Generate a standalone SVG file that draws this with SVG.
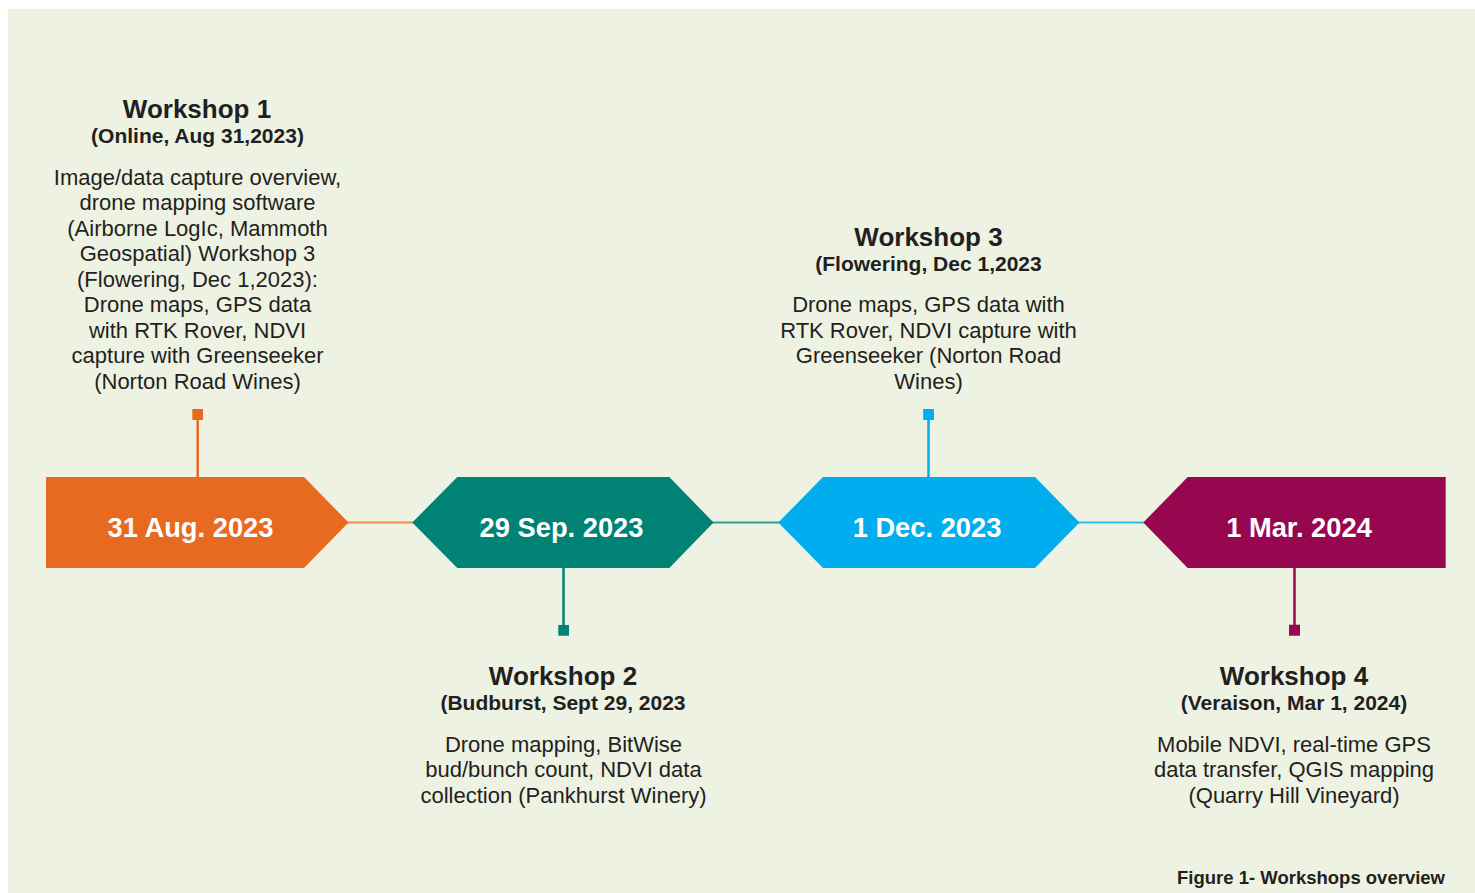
<svg xmlns="http://www.w3.org/2000/svg" width="1475" height="893" viewBox="0 0 1475 893">
  <style>
    text { font-family: "Liberation Sans", Arial, Helvetica, sans-serif; fill: #231f20; text-anchor: middle; }
    .title { font-size: 26px; font-weight: bold; }
    .sub { font-size: 21px; font-weight: bold; }
    .body { font-size: 22px; }
    .date { font-size: 27.3px; font-weight: bold; fill: #ffffff; }
    .caption { font-size: 18.5px; font-weight: bold; text-anchor: end; }
    .stem { stroke-width: 2.5; fill: none; }
    .link { stroke-width: 2; fill: none; }
  </style>

  <!-- page background -->
  <rect x="0" y="0" width="1475" height="893" fill="#ffffff"/>
  <rect x="8" y="9" width="1467" height="884" fill="#eef2e2"/>

  <!-- timeline connectors -->
  <g id="connectors">
    <line class="link" x1="346" y1="522.5" x2="414" y2="522.5" stroke="#ef8a4c"/>
    <line class="link" x1="711" y1="522.5" x2="780" y2="522.5" stroke="#3a9a8e"/>
    <line class="link" x1="1077" y1="522.5" x2="1145" y2="522.5" stroke="#2fbdf0"/>
  </g>

  <!-- Workshop 1 -->
  <g id="workshop1">
    <line class="stem" x1="197.7" y1="418" x2="197.7" y2="478" stroke="#e86a20"/>
    <rect x="192.3" y="409" width="10.7" height="11" fill="#e86a20"/>
    <polygon points="46,477 304,477 348.5,522.5 304,568 46,568" fill="#e86a20"/>
    <text class="date" x="190.5" y="536.5">31 Aug. 2023</text>
    <text class="title" x="197" y="118">Workshop 1</text>
    <text class="sub" x="197.5" y="143">(Online, Aug 31,2023)</text>
    <text class="body" x="197.5" y="184.5">Image/data capture overview,</text>
    <text class="body" x="197.5" y="210">drone mapping software</text>
    <text class="body" x="197.5" y="235.5">(Airborne LogIc, Mammoth</text>
    <text class="body" x="197.5" y="261">Geospatial) Workshop 3</text>
    <text class="body" x="197.5" y="286.5">(Flowering, Dec 1,2023):</text>
    <text class="body" x="197.5" y="312">Drone maps, GPS data</text>
    <text class="body" x="197.5" y="337.5">with RTK Rover, NDVI</text>
    <text class="body" x="197.5" y="363">capture with Greenseeker</text>
    <text class="body" x="197.5" y="388.5">(Norton Road Wines)</text>
  </g>

  <!-- Workshop 2 -->
  <g id="workshop2">
    <line class="stem" x1="563.5" y1="567" x2="563.5" y2="627" stroke="#008275"/>
    <rect x="558.3" y="625" width="10.7" height="10.7" fill="#008275"/>
    <polygon points="412.3,522.5 457.3,477 669.3,477 713.5,522.5 669.3,568 457.3,568" fill="#008275"/>
    <text class="date" x="561.5" y="536.5">29 Sep. 2023</text>
    <text class="title" x="563" y="685">Workshop 2</text>
    <text class="sub" x="563" y="710">(Budburst, Sept 29, 2023</text>
    <text class="body" x="563.5" y="751.5">Drone mapping, BitWise</text>
    <text class="body" x="563.5" y="777">bud/bunch count, NDVI data</text>
    <text class="body" x="563.5" y="802.5">collection (Pankhurst Winery)</text>
  </g>

  <!-- Workshop 3 -->
  <g id="workshop3">
    <line class="stem" x1="928.5" y1="418" x2="928.5" y2="478" stroke="#00aeef"/>
    <rect x="923.2" y="409" width="10.7" height="11" fill="#00aeef"/>
    <polygon points="778.3,522.5 823,477 1035,477 1079.5,522.5 1035,568 823,568" fill="#00aeef"/>
    <text class="date" x="927" y="536.5">1 Dec. 2023</text>
    <text class="title" x="928.5" y="246">Workshop 3</text>
    <text class="sub" x="928.5" y="271">(Flowering, Dec 1,2023</text>
    <text class="body" x="928.5" y="312">Drone maps, GPS data with</text>
    <text class="body" x="928.5" y="337.5">RTK Rover, NDVI capture with</text>
    <text class="body" x="928.5" y="363">Greenseeker (Norton Road</text>
    <text class="body" x="928.5" y="388.5">Wines)</text>
  </g>

  <!-- Workshop 4 -->
  <g id="workshop4">
    <line class="stem" x1="1294.5" y1="567" x2="1294.5" y2="627" stroke="#970750"/>
    <rect x="1289" y="624.7" width="11" height="11" fill="#970750"/>
    <polygon points="1143.3,522.5 1187.7,477 1445.7,477 1445.7,568 1187.7,568" fill="#970750"/>
    <text class="date" x="1299" y="536.5">1 Mar. 2024</text>
    <text class="title" x="1294" y="685">Workshop 4</text>
    <text class="sub" x="1294" y="710">(Veraison, Mar 1, 2024)</text>
    <text class="body" x="1294" y="751.5">Mobile NDVI, real-time GPS</text>
    <text class="body" x="1294" y="777">data transfer, QGIS mapping</text>
    <text class="body" x="1294" y="802.5">(Quarry Hill Vineyard)</text>
  </g>

  <text class="caption" x="1445" y="884">Figure 1- Workshops overview</text>
</svg>
